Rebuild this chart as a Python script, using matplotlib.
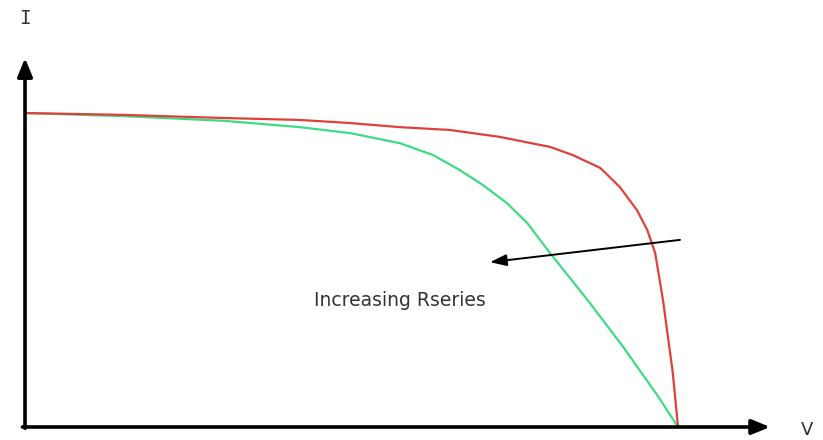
import matplotlib
matplotlib.use("Agg")
import matplotlib.pyplot as plt

# I-V curves (normalised: V / Voc, I / Isc)
v_low_rs = [0.0, 0.153, 0.306, 0.421, 0.498, 0.574, 0.651, 0.727, 0.804,
            0.839, 0.881, 0.911, 0.937, 0.953, 0.965, 0.977, 0.992, 1.0]
i_low_rs = [1.0, 0.994, 0.984, 0.978, 0.968, 0.955, 0.946, 0.924, 0.892,
            0.866, 0.825, 0.764, 0.691, 0.627, 0.554, 0.404, 0.172, 0.0]

v_high_rs = [0.0, 0.153, 0.306, 0.421, 0.498, 0.574, 0.625, 0.666, 0.701,
             0.738, 0.769, 0.804, 0.865, 0.916, 0.968, 1.0]
i_high_rs = [1.0, 0.990, 0.975, 0.955, 0.936, 0.904, 0.866, 0.818, 0.771,
             0.713, 0.650, 0.554, 0.395, 0.255, 0.102, 0.0]

annotation_text = "Increasing Rseries"
x_label = "V"
y_label = "I"

fig = plt.figure(figsize=(8.23, 4.4), dpi=100)
ax = fig.add_axes([0, 0, 1, 1])
ax.set_xlim(-0.0383, 1.222)
ax.set_ylim(-0.0414, 1.360)
ax.axis("off")

# axes with arrow heads
ax.annotate("", xy=(0, 1.175), xytext=(0, -0.004),
            arrowprops=dict(arrowstyle="-|>,head_length=1.1,head_width=0.45",
                            color="black", lw=2.6, shrinkA=0, shrinkB=0))
ax.annotate("", xy=(1.141, 0), xytext=(-0.004, 0),
            arrowprops=dict(arrowstyle="-|>,head_length=1.1,head_width=0.45",
                            color="black", lw=2.6, shrinkA=0, shrinkB=0))

ax.plot(v_high_rs, i_high_rs, color="#3ddc84", lw=1.6,
        solid_joinstyle="round", solid_capstyle="round")
ax.plot(v_low_rs, i_low_rs, color="#e0403a", lw=1.6,
        solid_joinstyle="round", solid_capstyle="round")

# direction of increasing series resistance
ax.annotate("", xy=(0.712, 0.525), xytext=(1.003, 0.596),
            arrowprops=dict(arrowstyle="-|>,head_length=1.0,head_width=0.35",
                            color="black", lw=1.4, shrinkA=0, shrinkB=0))

ax.text(0.574, 0.404, annotation_text, ha="center", va="center",
        fontsize=13.5, color="#333333", family="DejaVu Sans")
ax.text(0.0, 1.30, y_label, ha="center", va="center", fontsize=14,
        color="#333333", family="DejaVu Sans Mono")
ax.text(1.197, -0.01, x_label, ha="center", va="center", fontsize=13,
        color="#333333", family="DejaVu Sans")

fig.savefig("out.png", dpi=100, facecolor="white")
